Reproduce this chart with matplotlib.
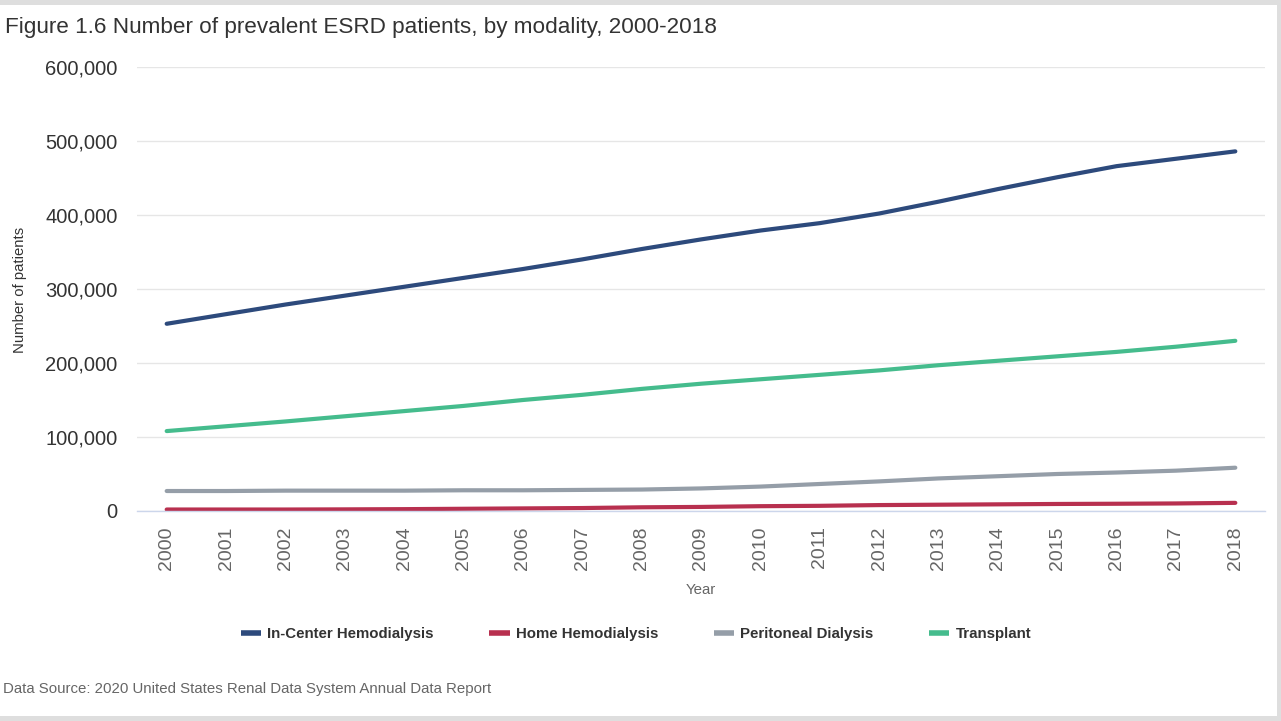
import matplotlib
matplotlib.use("Agg")
import matplotlib.pyplot as plt
from matplotlib.patches import Rectangle
from matplotlib.ticker import FuncFormatter

plt.rcParams["font.family"] = ["Liberation Sans", "DejaVu Sans"]

years = list(range(2000, 2019))

# prevalent patients
in_center_hd = [253000, 266000, 279000, 291000, 303000, 315000, 327000, 340000, 354000, 367000,
                379000, 389000, 402000, 418000, 435000, 451000, 466000, 476000, 486000]
home_hd = [2000, 2000, 2000, 2200, 2500, 3000, 3500, 4000, 5000, 5500,
           6500, 7000, 8000, 8500, 9000, 9500, 9800, 10200, 11000]
peritoneal = [27000, 27000, 27500, 27500, 27500, 28000, 28000, 28500, 29000, 30500,
              33000, 36500, 40000, 44000, 47000, 50000, 52000, 54500, 58500]
transplant = [108000, 114500, 121000, 128000, 135000, 142000, 150000, 157000, 165000, 172000,
              178000, 184000, 190000, 197000, 203000, 209000, 215000, 222000, 230000]

series = [
    ("In-Center Hemodialysis", in_center_hd, "#2d4a7c"),
    ("Home Hemodialysis", home_hd, "#b8304f"),
    ("Peritoneal Dialysis", peritoneal, "#959ea8"),
    ("Transplant", transplant, "#45bc8d"),
]

W, H = 1281, 721
fig = plt.figure(figsize=(W / 100, H / 100), dpi=100)
fig.patch.set_facecolor("#dedede")
fig.patches.append(Rectangle((0, 5 / H), 1277 / W, (716 - 5) / H, transform=fig.transFigure,
                             facecolor="white", edgecolor="none", zorder=-5))

ax = fig.add_axes([137 / W, (H - 511) / H, (1265 - 137) / W, (511 - 67) / H])
ax.set_facecolor("none")

for name, vals, col in series:
    ax.plot(years, vals, color=col, lw=3, label=name, solid_capstyle="round", solid_joinstyle="round")

ax.set_xlim(1999.5, 2018.5)
ax.set_ylim(0, 600000)
ax.set_yticks(range(0, 600001, 100000))
ax.yaxis.set_major_formatter(FuncFormatter(lambda v, p: f"{int(v):,}"))
ax.set_xticks(years)
ax.set_xticklabels([str(y) for y in years], rotation=90)

ax.grid(axis="y", color="#e6e6e6", lw=1)
ax.set_axisbelow(True)
for s in ["top", "right", "left"]:
    ax.spines[s].set_visible(False)
ax.spines["bottom"].set_color("#ccd6eb")
ax.spines["bottom"].set_linewidth(1)

ax.tick_params(axis="y", length=0, pad=14, labelsize=14.5, labelcolor="#333333")
ax.tick_params(axis="x", length=0, pad=11, labelsize=14, labelcolor="#666666")

fig.text(5 / W, 1 - 28 / H, "Figure 1.6 Number of prevalent ESRD patients, by modality, 2000-2018",
         fontsize=16.2, color="#333333", va="center", ha="left")
fig.text(20 / W, 1 - 290 / H, "Number of patients", rotation=90, fontsize=10.7,
         color="#333333", va="center", ha="center")
fig.text(701 / W, 1 - 590 / H, "Year", fontsize=10.8, color="#666666", va="center", ha="center")
fig.text(3 / W, 1 - 689 / H, "Data Source: 2020 United States Renal Data System Annual Data Report",
         fontsize=10.8, color="#666666", va="center", ha="left")

leg = fig.legend(loc="center", bbox_to_anchor=(636 / W, 1 - 634 / H), ncol=4, frameon=False,
                 handlelength=1.35, handletextpad=0.42, columnspacing=3.7,
                 prop={"weight": "bold", "size": 10.8})
for t in leg.get_texts():
    t.set_color("#333333")
for h in leg.get_lines():
    h.set_linewidth(4)
    h.set_solid_capstyle("butt")

fig.savefig("out.png", dpi=100, facecolor=fig.get_facecolor())
